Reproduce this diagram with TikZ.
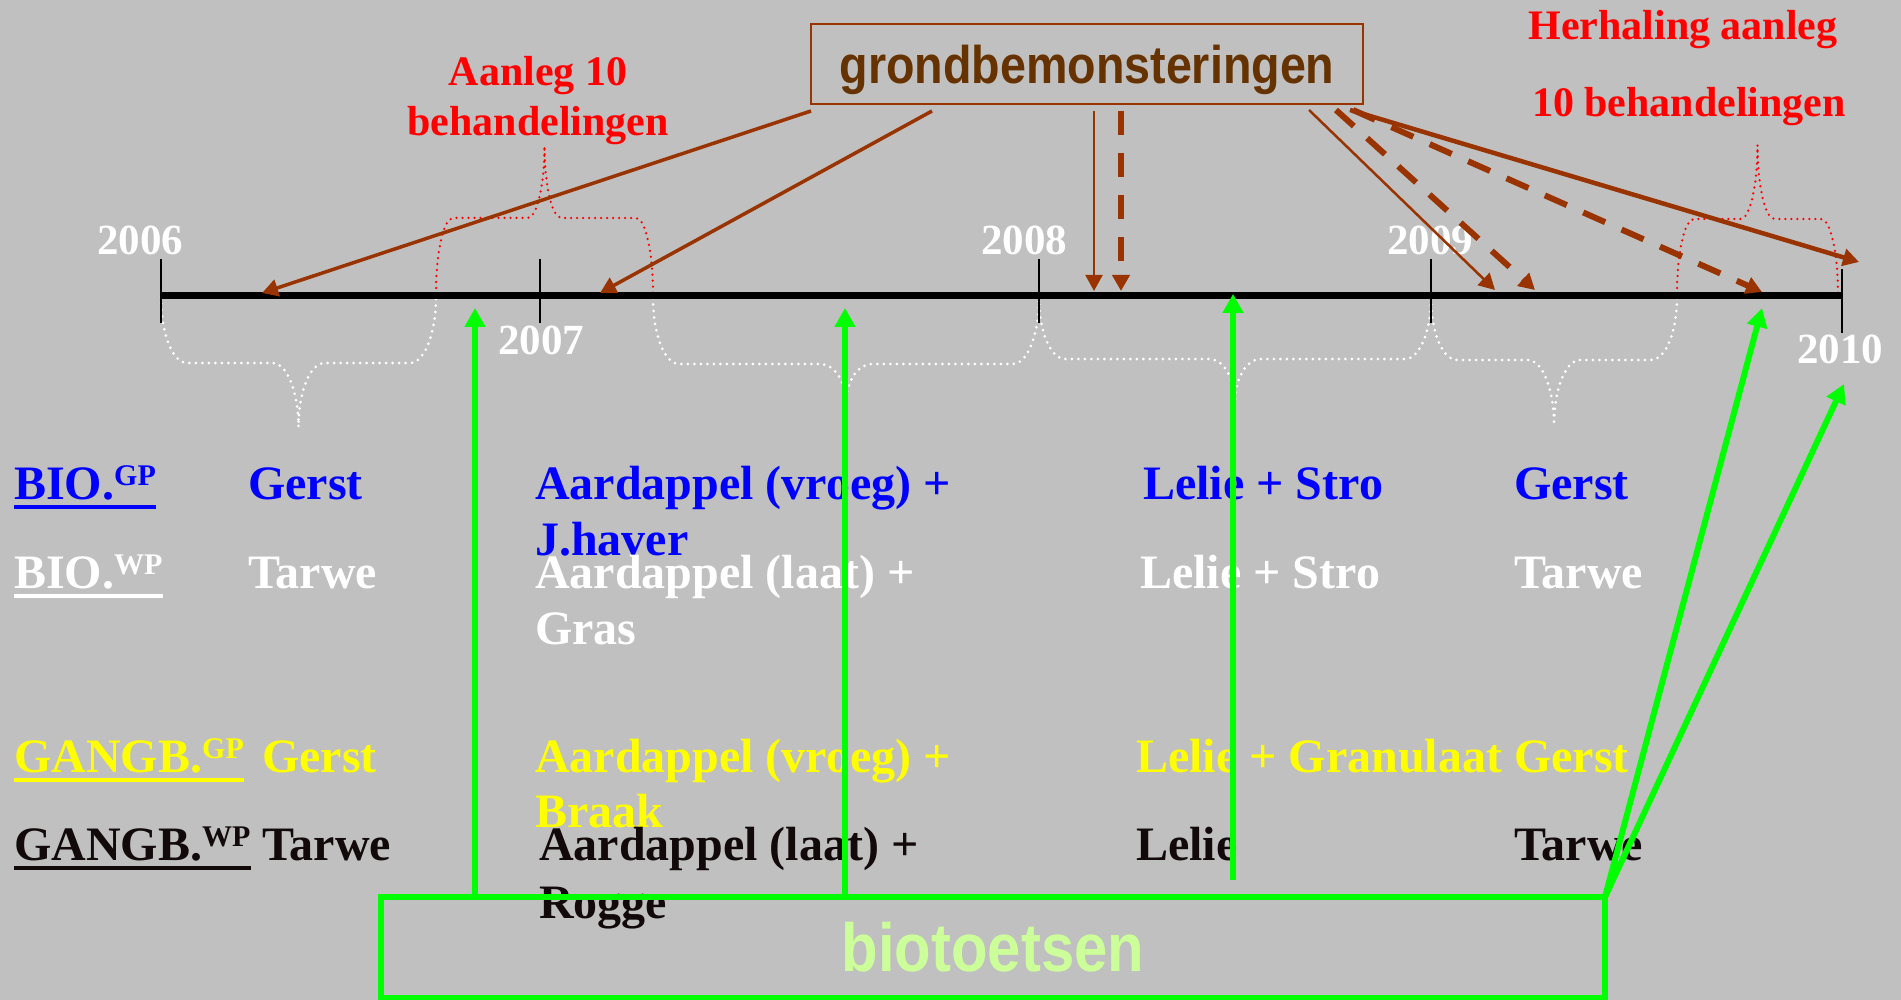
\documentclass[tikz,border=0pt]{standalone}
\usepackage{fontspec}
\setmainfont{Liberation Serif}
\newfontfamily\condsans[FakeStretch=0.88]{Liberation Sans}
\usetikzlibrary{arrows.meta}

\definecolor{bg}{HTML}{C0C0C0}
\definecolor{brn}{HTML}{993300}
\definecolor{dbrn}{HTML}{663300}
\definecolor{gr}{HTML}{00FF00}
\definecolor{lgrn}{HTML}{CCFF99}
\definecolor{ylw}{HTML}{FFFF00}
\definecolor{blk}{HTML}{120A0A}

% brace: [style]{x left}{x right}{y ends}{y flat}{y tip}{radius}
\newcommand{\tlbrace}[7][]{%
  \pgfmathsetmacro{\xm}{(#2+#3)/2}%
  \pgfmathsetmacro{\ya}{#4+0.552*(#5-#4)}%
  \pgfmathsetmacro{\yb}{#5+0.448*(#6-#5)}%
  \draw[#1] (#2,#4) .. controls (#2,\ya) and ({#2+0.448*#7},#5) .. ({#2+#7},#5)
    -- ({\xm-#7},#5) .. controls ({\xm-0.448*#7},#5) and (\xm,\yb) .. (\xm,#6)
    .. controls (\xm,\yb) and ({\xm+0.448*#7},#5) .. ({\xm+#7},#5)
    -- ({#3-#7},#5) .. controls ({#3-0.448*#7},#5) and (#3,\ya) .. (#3,#4);}
\newcommand{\veld}[1]{\raisebox{14pt}{\fontsize{30}{30}\selectfont #1}}

\begin{document}
\begin{tikzpicture}[x=1pt, y=-1pt,
    crop/.style={anchor=base west, inner sep=0pt, font=\bfseries\fontsize{48}{57}\selectfont},
    year/.style={anchor=base, inner sep=0pt, text=white, font=\bfseries\fontsize{43}{50}\selectfont},
    redlab/.style={anchor=base, inner sep=0pt, text=red, font=\bfseries\fontsize{42}{50}\selectfont},
    wbrace/.style={white, line width=3pt, line cap=round, dash pattern=on 0pt off 6.5pt},
    rbrace/.style={red, line width=2.5pt, line cap=round, dash pattern=on 0pt off 6pt},
    brarrow/.style={color=brn, -{Triangle[length=16pt,width=17pt]}},
    dasharrow/.style={brarrow, line width=6pt, dash pattern=on 24pt off 18pt},
    garrow/.style={color=gr, line width=6pt, -{Triangle[length=19pt,width=20pt]}},
    uline/.style={line width=4pt}]
    \fill[bg] (0,0) rectangle (1901,1000);
    \useasboundingbox (0,0) rectangle (1901,1000);

    \tlbrace[wbrace]{161}{436}{297}{363}{427}{26}
    \tlbrace[wbrace]{653}{1039}{298}{364}{403}{26}
    \tlbrace[wbrace]{1039}{1431}{298}{359}{402}{26}
    \tlbrace[wbrace]{1431}{1677}{298}{360}{425}{26}
    \tlbrace[rbrace]{436}{653}{294}{218}{146}{17}
    \tlbrace[rbrace]{1677}{1838}{294}{219}{145}{17}

    \coordinate (t0) at (161,296);
    \coordinate (t1) at (1842,296);
    \draw[line width=7pt] (t0) -- (t1);
    \foreach \x in {161,540,1039,1431}
        \draw[line width=2.7pt] (\x,259) -- (\x,323);
    \draw[line width=2.7pt] (1842,269) -- (1842,333);

    \node (y2006) at (140,255)[year] {2006};
    \node (y2007) at (541,355)[year] {2007};
    \node (y2008) at (1024,255)[year] {2008};
    \node (y2009) at (1430,255)[year] {2009};
    \node (y2010) at (1840,363)[year] {2010};

    \node (aanleg) at (538,86)[redlab] {Aanleg 10};
    \node (behand) at (538,136)[redlab] {behandelingen};
    \node (herhal) at (1683,40)[redlab] {Herhaling aanleg};
    \node (herbeh) at (1689,117)[redlab] {10 behandelingen};

    \node (gb) at (1087,64)[draw=brn, line width=2.5pt, minimum width=552pt, minimum height=80pt,
        inner sep=0pt, text=dbrn, text depth=0pt, font=\condsans\bfseries\fontsize{53}{60}\selectfont]
        {grondbemonsteringen};

    \coordinate (s1) at (811,111);
    \coordinate (s2) at (932,111);
    \coordinate (s3) at (1094,111);
    \coordinate (s4) at (1121,111);
    \coordinate (s5) at (1309,110);
    \coordinate (s6) at (1336,110);
    \coordinate (s7) at (1353,110);
    \coordinate (s8) at (1350,110);
    \coordinate (p1) at (262,293);
    \coordinate (p2) at (600,293);
    \coordinate (p3) at (1094,291);
    \coordinate (p4) at (1121,291);
    \coordinate (p5) at (1495,290);
    \coordinate (p6) at (1535,290);
    \coordinate (p7) at (1762,292);
    \coordinate (p8) at (1859,262);
    \draw[brarrow, line width=3.5pt] (s1) -- (p1);
    \draw[brarrow, line width=3.5pt] (s2) -- (p2);
    \draw[brarrow, line width=2pt] (s3) -- (p3);
    \draw[dasharrow] (s4) -- (p4);
    \draw[brarrow, line width=2.5pt] (s5) -- (p5);
    \draw[dasharrow] (s6) -- (p6);
    \draw[dasharrow] (s7) -- (p7);
    \draw[brarrow, line width=4.5pt] (s8) -- (p8);

    % BIO GP
    \node (bioGP) at (14,499)[crop, text=blue] {BIO.\veld{GP}};
    \draw[uline, blue] ([yshift=-8pt]bioGP.base west) -- ([yshift=-8pt]bioGP.base east);
    \node (bgp1) at (248,499)[crop, text=blue] {Gerst};
    \node (bgp2) at (535,499)[crop, text=blue] {Aardappel (vroeg) +};
    \node (bgp2b) at (535,555)[crop, text=blue] {J.haver};
    \node (bgp3) at (1143,499)[crop, text=blue] {Lelie + Stro};
    \node (bgp4) at (1514,499)[crop, text=blue] {Gerst};
    % BIO WP
    \node (bioWP) at (14,588)[crop, text=white] {BIO.\veld{WP}};
    \draw[uline, white] ([yshift=-8pt]bioWP.base west) -- ([yshift=-8pt]bioWP.base east);
    \node (bwp1) at (248,588)[crop, text=white] {Tarwe};
    \node (bwp2) at (535,588)[crop, text=white] {Aardappel (laat) +};
    \node (bwp2b) at (535,644)[crop, text=white] {Gras};
    \node (bwp3) at (1140,588)[crop, text=white] {Lelie + Stro};
    \node (bwp4) at (1514,588)[crop, text=white] {Tarwe};
    % GANGB GP
    \node (gangGP) at (14,772)[crop, text=ylw] {GANGB.\veld{GP}};
    \draw[uline, ylw] ([yshift=-8pt]gangGP.base west) -- ([yshift=-8pt]gangGP.base east);
    \node (ggp1) at (262,772)[crop, text=ylw] {Gerst};
    \node (ggp2) at (535,772)[crop, text=ylw] {Aardappel (vroeg) +};
    \node (ggp2b) at (535,827)[crop, text=ylw] {Braak};
    \node (ggp3) at (1136,772)[crop, text=ylw] {Lelie + Granulaat Gerst};
    % GANGB WP
    \node (gangWP) at (14,860)[crop, text=blk] {GANGB.\veld{WP}};
    \draw[uline, blk] ([yshift=-8pt]gangWP.base west) -- ([yshift=-8pt]gangWP.base east);
    \node (gwp1) at (262,860)[crop, text=blk] {Tarwe};
    \node (gwp2) at (539,860)[crop, text=blk] {Aardappel (laat) +};
    \node (gwp2b) at (539,918)[crop, text=blk] {Rogge};
    \node (gwp3) at (1136,860)[crop, text=blk] {Lelie};
    \node (gwp4) at (1514,860)[crop, text=blk] {Tarwe};

    \node (bt) at (993,947.5)[draw=gr, line width=5.5pt, minimum width=1224pt, minimum height=101pt,
        inner sep=0pt, outer sep=0pt, text=lgrn, font=\condsans\bfseries\fontsize{68}{70}\selectfont]
        {biotoetsen};
    \coordinate (k1) at (475,308);
    \coordinate (k2) at (845,308);
    \coordinate (k3s) at (1233,880);
    \coordinate (k3) at (1233,294);
    \coordinate (k4) at (1762,308);
    \coordinate (k5) at (1844,384);
    \draw[garrow] (k1 |- bt.north) -- (k1);
    \draw[garrow] (k2 |- bt.north) -- (k2);
    \draw[garrow] (k3s) -- (k3);
    \draw[garrow] (bt.north east) -- (k4);
    \draw[garrow] (bt.north east) -- (k5);
\end{tikzpicture}
\end{document}
